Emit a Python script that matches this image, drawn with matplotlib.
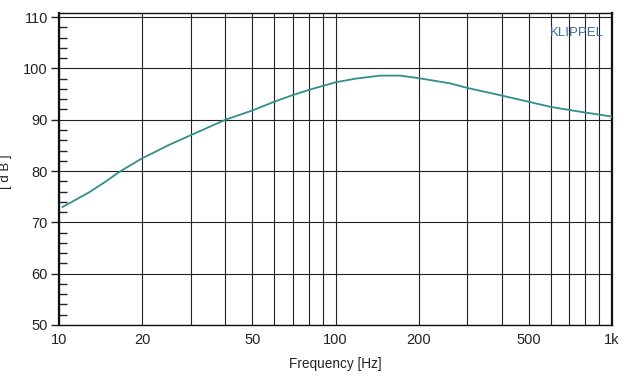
import matplotlib
matplotlib.use('Agg')
import matplotlib.pyplot as plt
from matplotlib.ticker import FixedLocator, MultipleLocator, NullFormatter

# Frequency response (Hz, dB)
freq = [10.3, 12.8, 14.7, 16.6, 20, 22.2, 25, 30, 40, 50, 60, 70, 80, 90, 100,
        118, 145, 171, 200, 259, 300, 400, 500, 600, 700, 800, 900, 1000]
spl = [73.0, 75.8, 77.9, 79.9, 82.5, 83.7, 85.1, 87.0, 90.0, 91.8, 93.5, 94.8, 95.8, 96.6, 97.3,
       98.0, 98.6, 98.6, 98.1, 97.1, 96.2, 94.7, 93.5, 92.5, 91.9, 91.4, 91.0, 90.6]

x_ticks = [10, 20, 50, 100, 200, 500, 1000]
x_labels = ['10', '20', '50', '100', '200', '500', '1k']
x_grid = [10, 20, 30, 40, 50, 60, 70, 80, 90, 100,
          200, 300, 400, 500, 600, 700, 800, 900, 1000]
y_ticks = [50, 60, 70, 80, 90, 100, 110]

plt.rcParams['font.family'] = ['Liberation Sans', 'DejaVu Sans']

fig = plt.figure(figsize=(6.4, 3.84), dpi=100)
ax = fig.add_axes([59 / 640, 1 - 325 / 384, 553 / 640, 312 / 384])

ax.set_xscale('log')
ax.set_xlim(10, 1000)
ax.set_ylim(50, 110.8)

# grid drawn by hand so every decade line shows
for f in x_grid:
    ax.axvline(f, color='#222222', lw=0.8, zorder=1)
for y in y_ticks:
    ax.axhline(y, color='#222222', lw=0.8, zorder=1)

ax.plot(freq, spl, color='#2f8f8c', lw=1.3, zorder=3)

ax.xaxis.set_major_locator(FixedLocator(x_ticks))
ax.set_xticklabels(x_labels)
ax.xaxis.set_minor_formatter(NullFormatter())
ax.xaxis.set_minor_locator(FixedLocator([]))
ax.tick_params(axis='x', length=0, pad=6, labelsize=10.5, colors='#222222')

ax.yaxis.set_major_locator(FixedLocator(y_ticks))
ax.yaxis.set_minor_locator(MultipleLocator(2))
ax.tick_params(axis='y', which='major', direction='out', length=6, width=1,
               labelsize=10.5, colors='#222222', pad=2)
ax.tick_params(axis='y', which='minor', direction='in', length=6, width=1,
               color='#222222')

for side in ['left', 'bottom', 'right', 'top']:
    ax.spines[side].set_color('#111111')
    ax.spines[side].set_linewidth(1.0)
ax.spines['left'].set_linewidth(1.6)
ax.spines['right'].set_linewidth(1.6)

ax.set_xlabel('Frequency [Hz]', fontsize=9.8, labelpad=7, color='#222222')
ax.set_ylabel('[ d B ]', fontsize=9.5, color='#222222')
ax.yaxis.set_label_coords(-0.085, 0.49)

ax.text(0.985, 0.955, 'KLIPPEL', transform=ax.transAxes, ha='right', va='top',
        fontsize=9.5, color='#3b6c9c')

plt.savefig('out.png', dpi=100)
plt.close()
